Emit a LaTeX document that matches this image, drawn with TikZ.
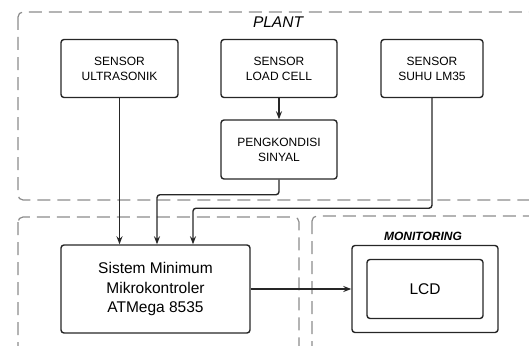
\documentclass[tikz,border=0pt]{standalone}
\usepackage{fontspec}
\setmainfont{Liberation Sans}
\usetikzlibrary{positioning,arrows.meta}

\begin{document}
\begin{tikzpicture}[x=1pt,y=-1pt,>={Stealth[length=8pt,width=6pt]},line width=1.4pt,
        box/.style={draw=black!85, rectangle, rounded corners=3pt, align=center, inner sep=0pt, font=\fontsize{12}{15}\selectfont},
        bigbox/.style={box, font=\fontsize{15.5}{19.5}\selectfont},
        region/.style={draw=black!45, line width=1.2pt, dash pattern=on 13pt off 7pt, rounded corners=5pt}]
        \useasboundingbox (0,0) rectangle (529,345);

        % dashed areas
        \draw[region] (18,12) rectangle (548,200);
        \draw[region] (18,217) rectangle (299,368);
        \draw[region] (312,216) rectangle (548,368);
        \node (plant) at (278,22) {\fontsize{15.5}{18}\selectfont\itshape PLANT};
        \node (monlabel) at (423,236) {\fontsize{12}{14}\selectfont\bfseries\itshape MONITORING};

        \node (ultra) at (119.5,68.5) [box, minimum width=117pt, minimum height=58pt] {SENSOR\\ULTRASONIK};
        \node (loadcell) [box, node distance=159.5pt, right of=ultra, minimum width=116pt, minimum height=58pt] {SENSOR\\LOAD CELL};
        \node (suhu) [box, node distance=153pt, right of=loadcell, minimum width=102pt, minimum height=58pt] {SENSOR\\SUHU LM35};
        \node (signal) [box, node distance=81pt, below of=loadcell, minimum width=116pt, minimum height=59pt] {PENGKONDISI\\SINYAL};
        \node (micro) at (155.5,289) [bigbox, minimum width=189pt, minimum height=88pt] {Sistem Minimum\\Mikrokontroler\\ATMega 8535};
        \node (monitor) [box, node distance=269.5pt, right of=micro, minimum width=146pt, minimum height=87pt] {};
        \node (lcd) at (monitor) [bigbox, minimum width=116pt, minimum height=59pt] {LCD};

        \draw[->, black!85] (loadcell) -- (signal);
        \draw[->, black!85] (ultra.south) -- (ultra.south |- micro.north);
        \draw[->, black!85, rounded corners=3pt] (signal.south) -- ++(0,15) -| ([xshift=1.5pt]micro.north);
        \draw[->, black!85, rounded corners=3pt] (suhu.south) -- ++(0,110) -| ([xshift=37.5pt]micro.north);
        \draw[->, black!85] (micro.east) -- (micro.east -| monitor.west);
    \end{tikzpicture}
\end{document}
